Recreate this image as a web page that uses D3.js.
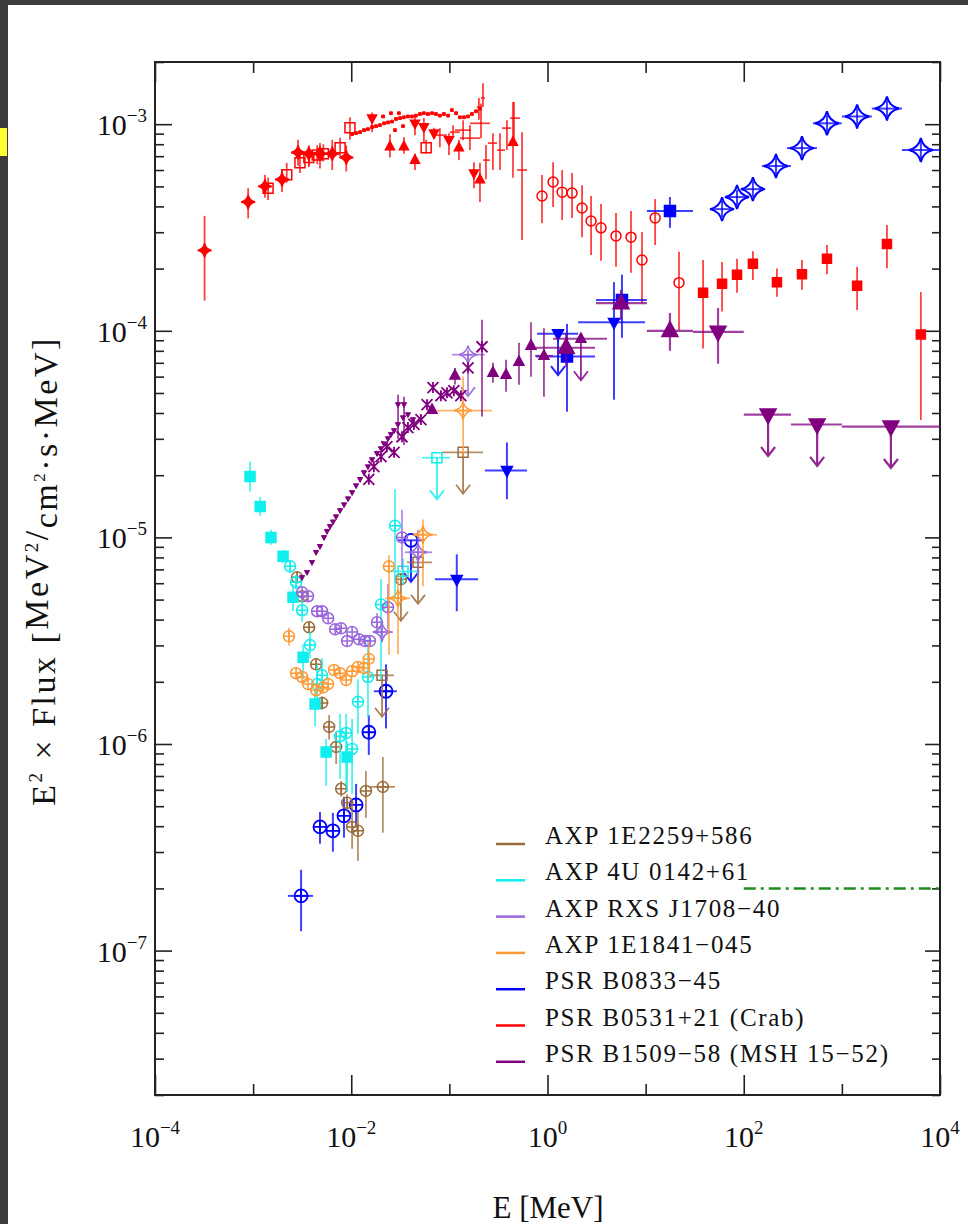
<!DOCTYPE html>
<html>
<head>
<meta charset="utf-8">
<script src="https://cdn.jsdelivr.net/npm/d3@7"></script>
<style>
  body { margin: 0; background: #fff; }
  svg { display: block; }
  text { font-family: "Liberation Serif", "Times New Roman", serif; fill: #111; }
</style>
</head>
<body>
<svg id="svg" width="968" height="1224"></svg>
<script>
// ---- data (E in MeV, F = E^2 x flux in MeV^2/cm^2/s/MeV) ----
// point rows: [E, F, Flo, Fhi, Elo, Ehi]; upper-limit rows: [E, F, Elo, Ehi]

// PSR B0531+21 (Crab)
const crabDiamonds = [
  [3.2e-4, 2.45e-4, 1.4e-4, 3.6e-4], [8.9e-4, 4.2e-4, 3.5e-4, 4.9e-4],
  [1.32e-3, 5.0e-4, 4.4e-4, 5.7e-4], [1.97e-3, 5.4e-4, 4.7e-4, 6.0e-4],
  [2.87e-3, 7.3e-4, 6.3e-4, 8.4e-4], [3.7e-3, 7.2e-4, 6.3e-4, 7.9e-4],
  [4.8e-3, 7.2e-4, 6.1e-4, 8.1e-4], [6.4e-3, 7.2e-4, 6.0e-4, 8.4e-4],
  [8.9e-3, 6.9e-4, 5.9e-4, 7.9e-4]
];
const crabOpenSquares = [
  [1.42e-3, 4.9e-4, 4.3e-4, 5.5e-4], [2.2e-3, 5.7e-4, 5.2e-4, 6.5e-4],
  [3.0e-3, 6.5e-4, 5.8e-4, 7.3e-4], [3.7e-3, 6.9e-4, 6.2e-4, 7.7e-4],
  [4.5e-3, 7.1e-4, 6.4e-4, 7.9e-4], [5.2e-3, 7.2e-4, 6.6e-4, 8.0e-4],
  [7.7e-3, 7.7e-4, 7.0e-4, 8.6e-4], [9.7e-3, 9.6e-4, 8.4e-4, 1.08e-3],
  [5.8e-2, 7.7e-4, 7.2e-4, 8.4e-4]
];
const crabSpectrum = [
  [1.02e-2, 8.95e-4], [1.12e-2, 9.05e-4], [1.23e-2, 9.15e-4], [1.35e-2, 9.36e-4],
  [1.48e-2, 9.46e-4], [1.63e-2, 9.68e-4], [1.79e-2, 9.78e-4], [1.96e-2, 9.89e-4],
  [2.11e-2, 1.09e-3], [2.16e-2, 1.01e-3], [2.37e-2, 1.02e-3], [2.54e-2, 1.13e-3],
  [2.6e-2, 1.03e-3], [2.79e-2, 9.36e-4], [2.86e-2, 1.06e-3], [3.06e-2, 1.13e-3],
  [3.14e-2, 1.07e-3], [3.37e-2, 9.78e-4], [3.44e-2, 1.08e-3], [3.78e-2, 1.09e-3],
  [4.16e-2, 1.09e-3], [4.56e-2, 1.1e-3], [5.01e-2, 1.12e-3], [5.5e-2, 1.13e-3],
  [6.05e-2, 1.12e-3], [6.65e-2, 1.13e-3], [7.3e-2, 1.12e-3], [8.0e-2, 1.1e-3],
  [8.8e-2, 1.12e-3], [9.7e-2, 1.1e-3], [0.106, 1.17e-3], [0.117, 1.13e-3],
  [0.128, 1.08e-3], [0.141, 1.08e-3], [0.155, 1.09e-3], [0.17, 1.12e-3],
  [0.187, 1.155e-3], [0.205, 1.19e-3]
];
const crabTriUp = [
  [2.48e-2, 7.8e-4, 6.9e-4, 8.95e-4], [3.44e-2, 7.8e-4, 7.2e-4, 8.65e-4],
  [4.46e-2, 6.7e-4, 6.0e-4, 7.2e-4], [0.125, 7.7e-4, 6.7e-4, 8.4e-4],
  [0.205, 5.4e-4, 4.2e-4, 6.5e-4], [0.445, 8.2e-4, 5.5e-4, 1.28e-3]
];
const crabTriDown = [
  [1.63e-2, 1.07e-3, 9.15e-4, 1.14e-3], [4.46e-2, 1.01e-3, 8.85e-4, 1.1e-3],
  [5.5e-2, 9.7e-4, 8.2e-4, 1.07e-3], [6.97e-2, 9.05e-4, 8.5e-4, 9.6e-4],
  [9.9e-2, 8.4e-4, 7.1e-4, 9.05e-4], [0.178, 5.8e-4, 4.9e-4, 6.55e-4]
];
const crabCrosses = [
  [8.0e-2, 8.85e-4, 7.74e-4, 9.57e-4, 7.13e-2, 9.45e-2],
  [0.109, 9.15e-4, 8.56e-4, 9.89e-4, 0.101, 0.128],
  [0.138, 9.36e-4, 8.37e-4, 1.045e-3, 0.114, 0.166],
  [0.162, 8.56e-4, 7.49e-4, 9.89e-4, 0.128, 0.205],
  [0.2, 1.21e-3, 1.05e-3, 1.34e-3, 0.19, 0.21],
  [0.21, 1.01e-3, 8.56e-4, 1.26e-3, 0.162, 0.259],
  [0.22, 1.34e-3, 1.21e-3, 1.58e-3, 0.21, 0.23],
  [0.236, 6.7e-4, 5.42e-4, 7.92e-4, 0.22, 0.259],
  [0.278, 8.1e-4, 6.0e-4, 9.05e-4, 0.247, 0.306],
  [0.328, 7.49e-4, 6.0e-4, 9.05e-4, 0.306, 0.369],
  [0.386, 9.57e-4, 7.49e-4, 1.045e-3, 0.344, 0.425],
  [0.455, 1.07e-3, 8.18e-4, 1.28e-3, 0.415, 0.525],
  [0.55, 6.0e-4, 2.75e-4, 9.15e-4, 0.489, 0.618]
];
const crabCircles = [
  [0.879, 4.49e-4, 3.32e-4, 5.67e-4], [1.14, 5.25e-4, 3.97e-4, 6.55e-4],
  [1.41, 4.69e-4, 3.44e-4, 6.0e-4], [1.78, 4.64e-4, 3.52e-4, 5.8e-4],
  [2.25, 3.93e-4, 2.84e-4, 5.07e-4], [2.78, 3.4e-4, 2.33e-4, 4.49e-4],
  [3.51, 3.15e-4, 2.18e-4, 4.11e-4], [4.99, 2.88e-4, 2.04e-4, 3.72e-4],
  [7.1, 2.84e-4, 1.91e-4, 3.8e-4], [9.18, 2.2e-4, 1.36e-4, 3.01e-4],
  [12.5, 3.52e-4, 2.6e-4, 4.34e-4], [21.9, 1.71e-4, 1.01e-4, 2.41e-4]
];
const crabSquares = [
  [38.5, 1.53e-4, 8.2e-5, 2.2e-4], [60.1, 1.69e-4, 1.24e-4, 2.15e-4],
  [85.4, 1.87e-4, 1.53e-4, 2.23e-4], [124, 2.11e-4, 1.76e-4, 2.43e-4],
  [218, 1.72e-4, 1.46e-4, 2.0e-4], [392, 1.88e-4, 1.58e-4, 2.2e-4],
  [705, 2.23e-4, 1.88e-4, 2.6e-4], [1430, 1.65e-4, 1.26e-4, 2.04e-4],
  [2880, 2.63e-4, 2.01e-4, 3.25e-4], [6380, 9.6e-5, 3.7e-5, 1.54e-4]
];

// PSR B0833-45 (Vela)
const velaStars = [
  [60.1, 3.88e-4, 3.56e-4, 4.25e-4, 47.5, 76], [85.4, 4.44e-4, 4.06e-4, 4.8e-4, 67.6, 108],
  [124, 4.85e-4, 4.44e-4, 5.3e-4, 95.9, 157], [213, 6.27e-4, 5.7e-4, 6.9e-4, 153, 303],
  [392, 7.66e-4, 7.0e-4, 8.4e-4, 276, 557], [705, 1.01e-3, 9.2e-4, 1.1e-3, 507, 997],
  [1430, 1.09e-3, 1.0e-3, 1.19e-3, 1000, 2020], [2880, 1.19e-3, 1.09e-3, 1.3e-3, 2020, 4090],
  [6380, 7.5e-4, 6.7e-4, 8.4e-4, 4090, 1e4]
];
const velaSquares = [
  [17.7, 3.8e-4, 3.15e-4, 4.44e-4, 10.3, 30.4],
  [5.74, 1.41e-4, 9.25e-5, 1.87e-4, 3.12, 10.3],
  [1.58, 7.5e-5, 4.06e-5, 1.08e-4, 0.764, 3.05]
];
const velaTriDown = [
  [4.76, 1.1e-4, 4.64e-5, 1.72e-4, 2.05, 9.86],
  [0.386, 2.11e-5, 1.53e-5, 2.88e-5, 0.23, 0.618],
  [0.119, 6.27e-6, 4.39e-6, 8.28e-6, 0.0713, 0.196]
];
const velaTriDownUL = [[1.28, 9.68e-5, 0.782, 2.05]];
const velaCircles = [
  [3.08e-3, 1.84e-7, 1.24e-7, 2.46e-7, 2.26e-3, 4.08e-3],
  [4.8e-3, 3.97e-7, 3.29e-7, 4.69e-7], [6.5e-3, 3.8e-7, 3.01e-7, 4.64e-7],
  [8.43e-3, 4.49e-7, 3.52e-7, 5.55e-7], [1.12e-2, 5.07e-7, 3.97e-7, 6.41e-7],
  [1.51e-2, 1.14e-6, 8.85e-7, 1.38e-6],
  [2.26e-2, 1.8e-6, 1.19e-6, 2.43e-6, 1.7e-2, 2.92e-2]
];
const velaCirclesUL = [[4.06e-2, 9.68e-6, 3.0e-2, 5.52e-2]];

// AXP 1E2259+586
const axp2259Circles = [
  [2.8e-3, 6.41e-6, 6.0e-6, 6.8e-6], [3.16e-3, 5.19e-6, 4.9e-6, 5.5e-6],
  [3.72e-3, 3.67e-6, 3.45e-6, 3.9e-6], [4.39e-3, 2.43e-6, 2.28e-6, 2.6e-6],
  [5.05e-3, 1.58e-6, 1.47e-6, 1.7e-6], [5.95e-3, 1.21e-6, 1.05e-6, 1.38e-6],
  [7.02e-3, 9.68e-7, 8.0e-7, 1.15e-6], [7.89e-3, 6.07e-7, 5.55e-7, 6.62e-7],
  [9.08e-3, 5.19e-7, 4.7e-7, 5.7e-7], [1.02e-2, 3.97e-7, 3.11e-7, 5.19e-7],
  [1.17e-2, 3.8e-7, 2.72e-7, 4.69e-7], [1.41e-2, 5.93e-7, 4.39e-7, 7.41e-7],
  [2.1e-2, 6.2e-7, 3.72e-7, 8.65e-7, 1.51e-2, 2.79e-2]
];
const axp2259CirclesUL = [[3.21e-2, 6.27e-6, null, null]];
const axp2259SquaresUL = [
  [2.06e-2, 2.15e-6, 1.55e-2, 2.72e-2],
  [4.79e-2, 7.57e-6, 3.7e-2, 6.65e-2],
  [0.138, 2.58e-5, 8.41e-2, 0.22]
];

// AXP 4U 0142+61
const axp0142Squares = [
  [9.3e-4, 1.97e-5, 1.67e-5, 2.33e-5], [1.18e-3, 1.41e-5, 1.27e-5, 1.57e-5],
  [1.52e-3, 1.0e-5, 9.2e-6, 1.09e-5], [2.02e-3, 8.1e-6, 7.5e-6, 8.7e-6],
  [2.55e-3, 5.13e-6, 4.39e-6, 5.93e-6], [3.23e-3, 2.63e-6, 2.06e-6, 3.04e-6],
  [4.28e-3, 1.56e-6, 1.22e-6, 1.84e-6], [5.55e-3, 9.15e-7, 6.27e-7, 1.06e-6],
  [9.08e-3, 8.65e-7, 5.86e-7, 1.03e-6]
];
const axp0142Circles = [
  [2.38e-3, 7.24e-6, 6.7e-6, 7.8e-6], [2.74e-3, 6.07e-6, 5.6e-6, 6.6e-6],
  [3.16e-3, 4.44e-6, 3.9e-6, 5.0e-6], [3.8e-3, 3.01e-6, 2.6e-6, 3.5e-6],
  [4.49e-3, 1.95e-6, 1.56e-6, 2.43e-6], [5.05e-3, 2.15e-6, 1.75e-6, 2.6e-6],
  [7.7e-3, 1.09e-6, 6.78e-7, 1.4e-6], [8.87e-3, 1.13e-6, 6.3e-7, 1.4e-6],
  [1.02e-2, 9.46e-7, 5.73e-7, 1.32e-6], [1.17e-2, 1.6e-6, 1.12e-6, 2.06e-6],
  [1.48e-2, 2.11e-6, 1.35e-6, 3.21e-6], [2.01e-2, 4.74e-6, 2.06e-6, 6.27e-6],
  [2.79e-2, 1.14e-5, 5.01e-6, 1.71e-5]
];
const axp0142OpenSquares = [[3.37e-2, 6.85e-6, 5.9e-6, 7.9e-6, 2.31e-2, 5.01e-2]];
const axp0142SquaresUL = [[7.47e-2, 2.43e-5, 5.26e-2, 0.101]];

// AXP RXS J1708-40
const axp1708Circles = [
  [3.16e-3, 5.42e-6], [3.63e-3, 5.19e-6], [4.49e-3, 4.39e-6], [5.05e-3, 4.39e-6],
  [5.81e-3, 4.06e-6], [6.85e-3, 3.59e-6], [7.89e-3, 3.63e-6], [9.08e-3, 3.15e-6],
  [1.02e-2, 3.48e-6], [1.2e-2, 3.21e-6], [1.38e-2, 3.15e-6], [1.55e-2, 3.15e-6],
  [1.83e-2, 3.88e-6, 3.45e-6, 4.3e-6], [2.37e-2, 4.59e-6, 3.59e-6, 5.93e-6],
  [3.29e-2, 1.0e-5, 7.0e-6, 1.36e-5]
];
const axp1708Stars = [
  [2.06e-2, 3.48e-6, 3.1e-6, 3.9e-6, 1.66e-2, 2.66e-2],
  [4.79e-2, 8.47e-6, 6.62e-6, 1.09e-5, 3.52e-2, 6.65e-2]
];
const axp1708StarsUL = [[0.155, 7.66e-5, 0.106, 0.23]];

// AXP 1E1841-045
const axp1841Circles = [
  [2.32e-3, 3.32e-6, 3.0e-6, 3.65e-6], [2.74e-3, 2.2e-6], [3.16e-3, 2.11e-6],
  [3.63e-3, 1.95e-6], [4.39e-3, 1.82e-6], [5.17e-3, 1.88e-6], [5.81e-3, 1.95e-6],
  [6.68e-3, 2.28e-6], [7.7e-3, 2.2e-6], [8.87e-3, 2.04e-6], [1.02e-2, 2.25e-6],
  [1.17e-2, 2.36e-6], [1.35e-2, 2.33e-6], [1.51e-2, 2.58e-6, 2.1e-6, 3.1e-6],
  [2.42e-2, 7.24e-6, 2.7e-6, 8.2e-6]
];
const axp1841Stars = [
  [2.99e-2, 5.07e-6, 2.72e-6, 6.48e-6, 2.21e-2, 3.97e-2],
  [5.38e-2, 1.03e-5, 5.8e-6, 1.22e-5, 4.25e-2, 7.47e-2],
  [0.138, 4.11e-5, 2.46e-5, 6.0e-5, 7.47e-2, 0.272]
];

// PSR B1509-58 (MSH 15-52)
const mshSmallTri = [
  [3.15e-3, 6.4e-6], [3.54e-3, 6.78e-6], [3.98e-3, 7.57e-6], [4.38e-3, 8.47e-6],
  [4.8e-3, 9.05e-6], [5.28e-3, 1.0e-5], [5.66e-3, 1.07e-5], [6.08e-3, 1.13e-5],
  [6.52e-3, 1.19e-5], [7.0e-3, 1.26e-5], [7.69e-3, 1.35e-5], [8.45e-3, 1.44e-5],
  [9.28e-3, 1.54e-5], [1.02e-2, 1.65e-5], [1.12e-2, 1.78e-5], [1.23e-2, 1.91e-5],
  [1.35e-2, 2.06e-5], [1.48e-2, 2.2e-5], [1.63e-2, 2.38e-5], [1.83e-2, 2.55e-5],
  [2.01e-2, 2.69e-5], [2.16e-2, 2.84e-5], [2.37e-2, 3.01e-5], [2.54e-2, 3.15e-5],
  [2.73e-2, 3.29e-5], [2.99e-2, 3.52e-5], [3.0e-2, 4.4e-5, 3.0e-5, 4.9e-5],
  [3.37e-2, 3.8e-5], [3.45e-2, 4.4e-5, 2.8e-5, 4.8e-5], [3.78e-2, 3.93e-5],
  [4.25e-2, 3.72e-5]
];
const mshCrosses = [
  [1.51e-2, 1.91e-5], [1.7e-2, 2.2e-5], [2.01e-2, 2.46e-5], [2.31e-2, 2.75e-5],
  [2.73e-2, 2.58e-5], [3.29e-2, 3.07e-5], [3.78e-2, 3.4e-5], [4.35e-2, 3.52e-5],
  [5.13e-2, 3.72e-5], [5.92e-2, 4.39e-5], [6.8e-2, 5.31e-5], [8.2e-2, 4.85e-5],
  [9.45e-2, 5.01e-5], [0.111, 5.13e-5], [0.131, 4.85e-5], [0.155, 6.62e-5],
  [0.215, 8.37e-5, 3.85e-5, 1.13e-4]
];
const mshTriUp = [
  [6.65e-2, 4.15e-5], [0.114, 6.07e-5, 5.5e-5, 6.6e-5], [0.278, 6.27e-5, 5.6e-5, 7.0e-5],
  [0.378, 6.12e-5, 5.07e-5, 7.24e-5], [0.512, 7.08e-5, 5.48e-5, 8.75e-5],
  [0.679, 8.47e-5, 6.0e-5, 1.1e-4], [0.92, 7.57e-5, 4.8e-5, 1.03e-4, 0.746, 1.14]
];
const mshTriUpUL = [[2.19, 9.15e-5, 1.14, 4.04]];
const mshBigTriUp = [
  [1.55, 8.28e-5, 6.7e-5, 9.78e-5, 0.764, 3.05],
  [5.61, 1.36e-4, 1.13e-4, 1.58e-4, 3.12, 10.3],
  [17.7, 1.0e-4, 8.0e-5, 1.22e-4, 10.3, 30.4]
];
const mshBigTriDown = [[54.7, 9.89e-5, 6.93e-5, 1.29e-4, 30.4, 100]];
const mshBigTriDownUL = [[177, 3.93e-5, 100, 303], [560, 3.52e-5, 303, 1000], [3160, 3.44e-5, 1000, 1e4]];

// dash-dot sensitivity line
const sensLine = [[100, 2e-7], [1e4, 2e-7]];

const legendNames = ['AXP 1E2259+586', 'AXP 4U 0142+61', 'AXP RXS J1708\u221240', 'AXP 1E1841\u2212045',
  'PSR B0833\u221245', 'PSR B0531+21 (Crab)', 'PSR B1509\u221258 (MSH 15\u221252)'];
const C = { brown: '#9c6b3a', cyan: '#11eeee', lav: '#9966dd', orange: '#ff9933',
  blue: '#0000ff', red: '#ff0000', purple: '#800080' };
const legendColors = [C.brown, C.cyan, C.lav, C.orange, C.blue, C.red, C.purple];

const yMajor = [1e-7, 1e-6, 1e-5, 1e-4, 1e-3];
const xMajor = [1e-4, 1e-2, 1, 1e2, 1e4];
const xOdd = [1e-3, 1e-1, 10, 1e3];

// ---- chart ----
const svg = d3.select('#svg');
const area = { left: 155, top: 62, right: 940, bottom: 1095 };
const x = d3.scaleLog().domain([1e-4, 1e4]).range([area.left, area.right]);
const y = d3.scaleLog().domain([2e-8, 2e-3]).range([area.bottom, area.top]);
const ulDrop = 0.63;

svg.append('rect').attr('width', 968).attr('height', 1224).attr('fill', '#fff');
// slide frame around the picture
svg.append('rect').attr('width', 968).attr('height', 5).attr('fill', '#3c3c3c');
svg.append('rect').attr('width', 8).attr('height', 1224).attr('fill', '#3c3c3c');
svg.append('rect').attr('x', 0).attr('y', 128).attr('width', 7).attr('height', 28).attr('fill', '#ffff33');

svg.append('defs').append('clipPath').attr('id', 'clip')
  .append('rect').attr('x', area.left).attr('y', area.top)
  .attr('width', area.right - area.left).attr('height', area.bottom - area.top);

// minor y ticks 2..9 per decade
const yMinor = [];
for (let e = -8; e <= -3; e++) for (let m = 2; m <= 9; m++) {
  const v = m * Math.pow(10, e);
  if (v >= 2e-8 && v <= 2e-3) yMinor.push(v);
}

function tickGroup(axis, tx, ty) {
  const g = svg.append('g').attr('transform', 'translate(' + tx + ',' + ty + ')').call(axis);
  g.select('.domain').remove();
  g.selectAll('line').attr('stroke', '#222').attr('stroke-width', 1.6);
  return g;
}
tickGroup(d3.axisLeft(y).tickValues(yMajor).tickSize(-17).tickFormat(''), area.left, 0);
tickGroup(d3.axisLeft(y).tickValues(yMinor).tickSize(-9).tickFormat(''), area.left, 0);
tickGroup(d3.axisRight(y).tickValues(yMajor).tickSize(-15).tickFormat(''), area.right, 0);
tickGroup(d3.axisRight(y).tickValues(yMinor).tickSize(-8).tickFormat(''), area.right, 0);
tickGroup(d3.axisBottom(x).tickValues(xMajor).tickSize(-20).tickFormat(''), 0, area.bottom);
tickGroup(d3.axisBottom(x).tickValues(xOdd).tickSize(-11).tickFormat(''), 0, area.bottom);
tickGroup(d3.axisTop(x).tickValues(xMajor).tickSize(-20).tickFormat(''), 0, area.top);
tickGroup(d3.axisTop(x).tickValues(xOdd).tickSize(-11).tickFormat(''), 0, area.top);

svg.append('rect').attr('x', area.left).attr('y', area.top)
  .attr('width', area.right - area.left).attr('height', area.bottom - area.top)
  .attr('fill', 'none').attr('stroke', '#222').attr('stroke-width', 2);

function powLabel(sel, v) {
  const p = Math.round(Math.log10(v));
  sel.append('tspan').text('10');
  sel.append('tspan').attr('dy', -13).attr('font-size', 19).text(String(p).replace('-', '\u2212'));
}
yMajor.forEach(v => {
  const t = svg.append('text').attr('x', 147).attr('y', y(v) + 11)
    .attr('text-anchor', 'end').attr('font-size', 30);
  powLabel(t, v);
});
xMajor.forEach(v => {
  const t = svg.append('text').attr('x', x(v)).attr('y', 1147)
    .attr('text-anchor', 'middle').attr('font-size', 30);
  powLabel(t, v);
});

svg.append('text').attr('x', 548).attr('y', 1218).attr('text-anchor', 'middle')
  .attr('font-size', 31).text('E [MeV]');

const yt = svg.append('text').attr('transform', 'translate(55,571) rotate(-90)')
  .attr('text-anchor', 'middle').attr('font-size', 34).attr('letter-spacing', 2.5);
yt.append('tspan').text('E');
yt.append('tspan').attr('dy', -13).attr('font-size', 19).text('2');
yt.append('tspan').attr('dy', 13).text(' \u00d7 Flux [');
yt.append('tspan').attr('dy', -7).text('MeV');
yt.append('tspan').attr('dy', -10).attr('font-size', 19).text('2');
yt.append('tspan').attr('dy', 10).text('/');
yt.append('tspan').attr('dy', 9).text('cm');
yt.append('tspan').attr('dy', -12).attr('font-size', 17).text('2');
yt.append('tspan').attr('dy', 12).text('\u00b7s\u00b7MeV');
yt.append('tspan').attr('dy', -2).text(']');

// ---- marks ----
const plot = svg.append('g').attr('clip-path', 'url(#clip)');

function markerPath(type, s) {
  const c = 'M' + (-s) + ',0A' + s + ',' + s + ' 0 1,0 ' + s + ',0A' + s + ',' + s + ' 0 1,0 ' + (-s) + ',0Z';
  const k = s * 0.18;
  switch (type) {
    case 'square': return 'M' + (-s) + ',' + (-s) + 'h' + 2 * s + 'v' + 2 * s + 'h' + (-2 * s) + 'Z';
    case 'triUp': return 'M0,' + (-1.15 * s) + 'L' + s + ',' + 0.7 * s + 'L' + (-s) + ',' + 0.7 * s + 'Z';
    case 'triDown': return 'M0,' + 1.15 * s + 'L' + s + ',' + (-0.7 * s) + 'L' + (-s) + ',' + (-0.7 * s) + 'Z';
    case 'x': return 'M' + (-s) + ',' + (-s) + 'L' + s + ',' + s + 'M' + (-s) + ',' + s + 'L' + s + ',' + (-s) + 'M0,' + (-s) + 'V' + s;
    case 'circle': return c;
    case 'circlePlus': return c + 'M' + (-s) + ',0H' + s + 'M0,' + (-s) + 'V' + s;
    case 'star': return 'M0,' + (-s) + 'Q' + k + ',' + (-k) + ' ' + s + ',0Q' + k + ',' + k + ' 0,' + s +
      'Q' + (-k) + ',' + k + ' ' + (-s) + ',0Q' + (-k) + ',' + (-k) + ' 0,' + (-s) + 'Z';
    case 'starPlus': return markerPath('star', s) + 'M' + (-s * 0.5) + ',0H' + s * 0.5 + 'M0,' + (-s * 0.5) + 'V' + s * 0.5;
  }
}

function drawLayer(L) {
  const g = plot.append('g');
  const bw = L.bar || 1.8;
  L.data.forEach(d => {
    const cx = x(d[0]), cy = y(d[1]);
    const elo = L.ul ? d[2] : d[4], ehi = L.ul ? d[3] : d[5];
    if (elo != null) {
      g.append('line').attr('x1', x(elo)).attr('x2', x(ehi)).attr('y1', cy).attr('y2', cy)
        .attr('stroke', L.color).attr('stroke-width', bw).attr('stroke-opacity', 0.75);
    }
    if (!L.ul && d[2] != null) {
      g.append('line').attr('x1', cx).attr('x2', cx).attr('y1', y(d[2])).attr('y2', y(d[3]))
        .attr('stroke', L.color).attr('stroke-width', bw).attr('stroke-opacity', 0.75);
    }
    if (L.ul) {
      const ye = y(d[1] * ulDrop);
      g.append('path').attr('d', 'M' + cx + ',' + cy + 'V' + ye + 'M' + (cx - 7) + ',' + (ye - 9) + 'L' + cx + ',' + ye + 'L' + (cx + 7) + ',' + (ye - 9))
        .attr('fill', 'none').attr('stroke', L.color).attr('stroke-width', bw).attr('stroke-opacity', 0.85);
    }
    if (L.marker) {
      g.append('path').attr('transform', 'translate(' + cx + ',' + cy + ')')
        .attr('d', markerPath(L.marker, L.size))
        .attr('fill', L.fill ? L.color : (L.marker === 'x' ? 'none' : '#fff'))
        .attr('fill-opacity', L.fill ? 1 : 0)
        .attr('stroke', L.color).attr('stroke-width', L.sw || 1.5);
    }
  });
}

const layers = [
  { data: crabSpectrum, color: C.red, marker: 'square', size: 1.4, fill: true, sw: 1 },
  { data: crabDiamonds, color: C.red, marker: 'star', size: 7, fill: true },
  { data: crabOpenSquares, color: C.red, marker: 'square', size: 5 },
  { data: crabTriUp, color: C.red, marker: 'triUp', size: 4.5, fill: true },
  { data: crabTriDown, color: C.red, marker: 'triDown', size: 4.5, fill: true },
  { data: crabCrosses, color: C.red, marker: null },
  { data: crabCircles, color: C.red, marker: 'circle', size: 5 },
  { data: crabSquares, color: C.red, marker: 'square', size: 4.5, fill: true },
  { data: velaStars, color: C.blue, marker: 'star', size: 12, sw: 2, bar: 2 },
  { data: velaSquares, color: C.blue, marker: 'square', size: 5.5, fill: true, bar: 2 },
  { data: velaTriDown, color: C.blue, marker: 'triDown', size: 5.5, fill: true, bar: 2 },
  { data: velaTriDownUL, color: C.blue, marker: 'triDown', size: 5.5, fill: true, ul: true, bar: 2 },
  { data: velaCircles, color: C.blue, marker: 'circlePlus', size: 6.5, sw: 1.8, bar: 2 },
  { data: velaCirclesUL, color: C.blue, marker: 'circle', size: 6.5, sw: 1.8, ul: true, bar: 2 },
  { data: axp2259Circles, color: C.brown, marker: 'circlePlus', size: 5.5 },
  { data: axp2259CirclesUL, color: C.brown, marker: 'circlePlus', size: 5.5, ul: true },
  { data: axp2259SquaresUL, color: C.brown, marker: 'square', size: 5, ul: true },
  { data: axp0142Squares, color: C.cyan, marker: 'square', size: 5, fill: true },
  { data: axp0142Circles, color: C.cyan, marker: 'circlePlus', size: 5.5 },
  { data: axp0142OpenSquares, color: C.cyan, marker: 'square', size: 5 },
  { data: axp0142SquaresUL, color: C.cyan, marker: 'square', size: 5, ul: true },
  { data: axp1708Circles, color: C.lav, marker: 'circlePlus', size: 5.5 },
  { data: axp1708Stars, color: C.lav, marker: 'starPlus', size: 9 },
  { data: axp1708StarsUL, color: C.lav, marker: 'starPlus', size: 9, ul: true },
  { data: axp1841Circles, color: C.orange, marker: 'circlePlus', size: 5.5 },
  { data: axp1841Stars, color: C.orange, marker: 'starPlus', size: 9 },
  { data: mshSmallTri, color: C.purple, marker: 'triDown', size: 2.6, fill: true, sw: 1 },
  { data: mshCrosses, color: C.purple, marker: 'x', size: 5.5, sw: 1.8 },
  { data: mshTriUp, color: C.purple, marker: 'triUp', size: 5, fill: true },
  { data: mshTriUpUL, color: C.purple, marker: 'triUp', size: 5, fill: true, ul: true },
  { data: mshBigTriUp, color: C.purple, marker: 'triUp', size: 8, fill: true, bar: 2.2 },
  { data: mshBigTriDown, color: C.purple, marker: 'triDown', size: 8, fill: true, bar: 2.2 },
  { data: mshBigTriDownUL, color: C.purple, marker: 'triDown', size: 8, fill: true, ul: true, bar: 2.2 }
];
layers.forEach(drawLayer);

plot.append('path').datum(sensLine)
  .attr('d', d3.line().x(d => x(d[0])).y(d => y(d[1])))
  .attr('stroke', '#1e8c1e').attr('stroke-width', 2.5).attr('fill', 'none')
  .attr('stroke-dasharray', '12,5,3,5');

// ---- legend ----
const leg = svg.append('g');
legendNames.forEach((name, i) => {
  const yy = 844 + i * 36.3;
  leg.append('line').attr('x1', 496).attr('x2', 525).attr('y1', yy).attr('y2', yy)
    .attr('stroke', legendColors[i]).attr('stroke-width', 2.5);
  leg.append('text').attr('x', 545).attr('y', yy).attr('font-size', 25)
    .attr('letter-spacing', 1.7).text(name);
});
</script>
</body>
</html>
